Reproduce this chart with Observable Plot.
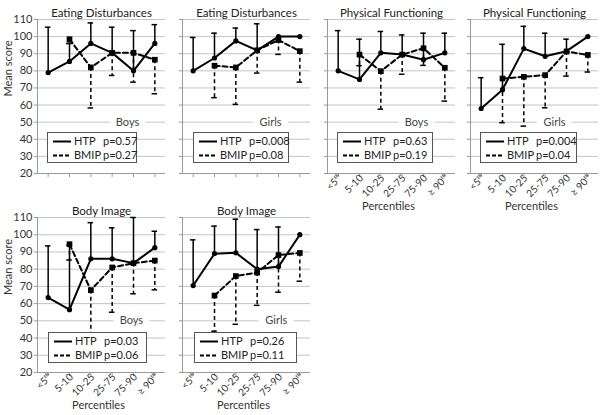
<!DOCTYPE html>
<html><head><meta charset="utf-8">
<script src="https://cdn.jsdelivr.net/npm/d3@7"></script>
<script src="https://cdn.jsdelivr.net/npm/@observablehq/plot@0.6"></script>
<style>
body{margin:0;background:#fff;}
#wrap{position:relative;width:602px;height:415px;overflow:hidden;font-family:Lato,sans-serif;background:#fff;}
.panel{position:absolute;}
.legend{position:absolute;background:#fff;border:1px solid #555;box-sizing:border-box;font-size:11px;color:#222;height:31px;}
.legend .row{position:absolute;left:0;height:14px;line-height:14px;white-space:nowrap;}
.legend svg{position:absolute;left:5px;top:6px;}
.legend .nm{position:absolute;left:26px;}
.legend .pv{position:absolute;left:55px;}
</style></head><body><div id="wrap"></div>
<script>
// categories / tick labels
const percentiles = ["<5ᵗʰ", "5-10", "10-25", "25-75", "75-90", "≥ 90ᵗʰ"];
const yTicks = [20, 30, 40, 50, 60, 70, 80, 90, 100, 110];
const titles = ["Eating Disturbances", "Eating Disturbances", "Physical Functioning", "Physical Functioning", "Body Image", "Body Image"];
const groups = ["Boys", "Girls", "Boys", "Girls", "Boys", "Girls"];
const htpP = ["p=0.57", "p=0.008", "p=0.63", "p=0.004", "p=0.03", "p=0.26"];
const bmipP = ["p=0.27", "p=0.08", "p=0.19", "p=0.04", "p=0.06", "p=0.11"];

// HTP mean and upper error-bar end (per panel)
const htpMean = [
  [79, 85.5, 96, 90.5, 80, 96],     // ED boys
  [80, 87.5, 97.5, 92, 100, 100],   // ED girls
  [80, 75, 90.5, 89.5, 86.5, 90.5], // PF boys
  [58, 69, 93, 88.5, 91.5, 100],    // PF girls
  [63.5, 56.5, 86, 86, 83.5, 92.5], // BI boys
  [70.5, 89, 89.5, 80, 81.5, 100]   // BI girls
];
const htpUpper = [
  [105.5, 96, 108, 105.5, 103.5, 107],
  [99.5, 102, 105, 107.5, null, null],
  [103.5, 98.5, 103, 101, 102, 102],
  [76, 95.5, 106, 102, 98.5, null],
  [93.5, 94, 107, 104, 110, 102],
  [97, 105, 109, 103, 104.5, null]
];
// BMIP mean and lower error-bar end (no <5th group)
const bmipMean = [
  [null, 98.5, 82, 90.5, 90.5, 86.5],
  [null, 83, 82, 92, 98, 91.5],
  [null, 89.5, 79.8, 89.5, 93.2, 81.8],
  [null, 75.5, 76.5, 77.5, 91.3, 89.3],
  [null, 94.5, 67.8, 81, 83.5, 85],
  [null, 64.7, 76, 78, 88.2, 89.4]
];
const bmipLower = [
  [null, 96, 58.3, 77.3, 73.4, 66.6],
  [null, 64.3, 60.4, 78.7, 89.6, 73.4],
  [null, 83, 57.6, 78, 83.2, 62.3],
  [null, 49.7, 47.7, 58.4, 76.9, 79.3],
  [null, 85.3, 38, 55, 65.7, 68],
  [null, 44, 48, 59, 66.6, 73]
];

// layout (pixels)
const frameLefts = [37, 182, 327, 470, 37, 182];
const rowOf = [0, 0, 0, 0, 1, 1];
const tagPos = [3.72, 3.63, 3.67, 3.44, 3.9, 3.9];
const legendBox = [[47, 90], [193, 96], [337, 96], [480, 97], [48, 99], [194, 103]];
const frameW = 128;

const wrap = document.getElementById("wrap");
const idx = [0, 1, 2, 3, 4, 5];

for (let p = 0; p < 6; p++) {
  const row = rowOf[p];
  const showY = (p === 0 || p === 4);
  const showX = (p >= 2);
  const mL = showY ? 37 : 12;
  const mR = 4, mT = 19, mB = 44;
  const fh = row === 0 ? 154 : 155;
  const width = mL + frameW + mR;
  const height = mT + fh + mB;
  const hm = htpMean[p], hu = htpUpper[p], bm = bmipMean[p], bl = bmipLower[p];
  const hIdx = idx.filter(i => hm[i] != null);
  const huIdx = idx.filter(i => hu[i] != null);
  const bIdx = idx.filter(i => bm[i] != null);
  const blIdx = idx.filter(i => bl[i] != null);

  const marks = [
    Plot.gridY(yTicks.slice(1), {stroke: "#c4c4c4", strokeOpacity: 1}),
    Plot.ruleY([20], {stroke: "#9a9a9a"}),
    Plot.ruleX([-0.5], {stroke: "#9a9a9a"}),
    Plot.axisY({ticks: yTicks, tickSize: 3, tickPadding: 2, stroke: "#9a9a9a",
      tickFormat: showY ? (d => d) : (() => ""), label: null, fill: "#333", fontSize: 11}),
    Plot.axisX({ticks: idx, tickSize: 4, stroke: "#9a9a9a", tickFormat: () => "", label: null}),
    ...(showX ? [Plot.axisX({ticks: idx, tickSize: 0, tickPadding: 3, dx: 2, tickRotate: -45,
      tickFormat: i => percentiles[i], label: null, fill: "#333", fontSize: 10})] : []),
    Plot.text([titles[p]], {frameAnchor: "top", dy: -11, fontSize: 11.5, fill: "#222"}),
    Plot.text([groups[p]], {x: [tagPos[p]], y: [50], fill: "#444", fontSize: 11,
      stroke: "white", strokeWidth: 14, paintOrder: "stroke"}),
    // HTP error bars (upward)
    Plot.ruleX(huIdx, {x: i => i, y1: i => hm[i], y2: i => hu[i], stroke: "black", strokeWidth: 1.5}),
    Plot.ruleY(huIdx, {x1: i => i - 0.13, x2: i => i + 0.13, y: i => hu[i], stroke: "black", strokeWidth: 1.5}),
    // BMIP error bars (downward, dashed)
    Plot.ruleX(blIdx, {x: i => i, y1: i => bm[i], y2: i => bl[i], stroke: "black", strokeWidth: 1.5, strokeDasharray: "4,3"}),
    Plot.ruleY(blIdx, {x1: i => i - 0.13, x2: i => i + 0.13, y: i => bl[i], stroke: "black", strokeWidth: 1.5}),
    // lines
    Plot.line(bIdx, {x: i => i, y: i => bm[i], stroke: "black", strokeWidth: 2, strokeDasharray: "5,3"}),
    Plot.line(hIdx, {x: i => i, y: i => hm[i], stroke: "black", strokeWidth: 2}),
    Plot.dot(bIdx, {x: i => i, y: i => bm[i], symbol: "square", r: 3.2, fill: "black"}),
    Plot.dot(hIdx, {x: i => i, y: i => hm[i], r: 2.6, fill: "black"})
  ];
  if (showY) {
    marks.push(Plot.text(["Mean score"], {frameAnchor: "left", dx: -29, rotate: -90, fontSize: 11, fill: "#333"}));
  }
  if (showX) {
    marks.push(Plot.text(["Percentiles"], {frameAnchor: "bottom", dy: 36, dx: -3, fontSize: 11, fill: "#333"}));
  }

  const chart = Plot.plot({
    width, height,
    marginLeft: mL, marginRight: mR, marginTop: mT, marginBottom: mB,
    x: {type: "linear", domain: [-0.5, 5.5]},
    y: {type: "linear", domain: [20, 110]},
    style: {background: "transparent", fontFamily: "Lato, sans-serif", fontSize: "11px", color: "#333", overflow: "visible"},
    marks
  });
  const div = document.createElement("div");
  div.className = "panel";
  div.style.left = (frameLefts[p] - mL) + "px";
  div.style.top = (row === 0 ? 0 : 198) + "px";
  div.appendChild(chart);
  wrap.appendChild(div);
}

// legends
for (let p = 0; p < 6; p++) {
  const lg = document.createElement("div");
  lg.className = "legend";
  lg.style.left = legendBox[p][0] + "px";
  lg.style.width = legendBox[p][1] + "px";
  lg.style.top = (rowOf[p] === 0 ? 132 : 332) + "px";
  lg.innerHTML =
    `<div class="row" style="top:1px;width:100%"><svg width="18" height="3"><line x1="0" x2="18" y1="1.5" y2="1.5" stroke="black" stroke-width="2"/></svg><span class="nm">HTP</span><span class="pv">${htpP[p]}</span></div>` +
    `<div class="row" style="top:15px;width:100%"><svg width="18" height="3"><line x1="0" x2="18" y1="1.5" y2="1.5" stroke="black" stroke-width="2" stroke-dasharray="4,2"/></svg><span class="nm">BMIP</span><span class="pv">${bmipP[p]}</span></div>`;
  wrap.appendChild(lg);
}
</script></body></html>
